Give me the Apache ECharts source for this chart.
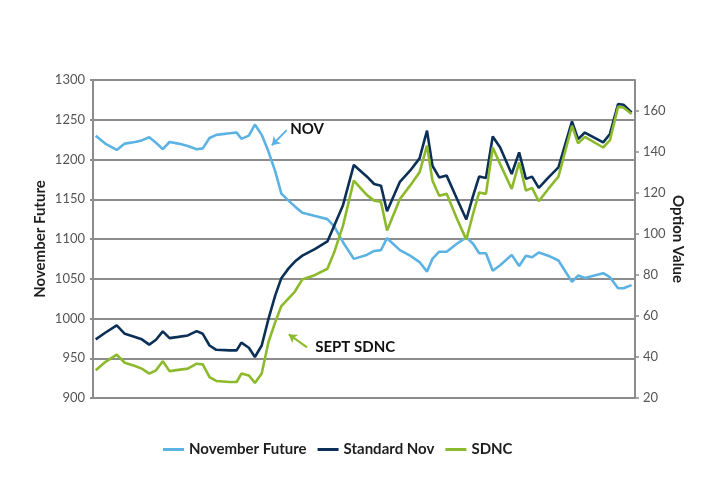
<!DOCTYPE html>
<html>
<head>
<meta charset="utf-8">
<script src="https://cdn.jsdelivr.net/npm/echarts@6/dist/echarts.min.js"></script>
<style>html,body{margin:0;padding:0;background:#fff}#c{width:720px;height:500px}</style>
</head>
<body>
<div id="c"></div>
<script>
// trading-day position (x)
const days = [0.4,1.8,3.5,4.7,6.2,7.2,8.3,9.3,10.3,11.3,12.6,14.0,15.3,16.2,17.2,18.2,20.2,21.2,21.9,23.0,23.9,24.9,25.9,26.9,27.8,28.9,29.8,30.9,32.8,34.6,35.6,36.9,38.5,40.4,41.5,42.5,43.4,45.3,46.8,48.2,49.3,50.1,51.1,52.2,53.7,55.1,56.1,57.0,58.0,59.0,60.1,61.8,62.9,63.9,64.8,65.8,67.2,68.7,70.7,71.6,72.6,75.3,76.3,77.5,78.3,79.5];
const novemberFuture = [1230,1220,1212,1220,1222,1224,1228,1221,1213,1222,1220,1217,1213,1214,1227,1231,1233,1234,1226,1230,1244,1231,1210,1185,1157,1148,1141,1133,1129,1125,1116,1096,1075,1080,1085,1086,1101,1086,1079,1071,1059,1075,1084,1084,1094,1102,1094,1082,1082,1060,1067,1080,1066,1079,1077,1083,1079,1073,1046,1054,1051,1057,1052,1038,1038,1042];
const standardNov = [48.6,51.8,55.4,51.3,49.7,48.6,46,48.4,52.5,49.2,49.8,50.5,52.6,51.3,45.6,43.5,43.2,43.2,47,44.5,40,45.6,58.6,70,78.4,83.3,86.5,89.4,92.7,96.3,104,114,133.6,128,124.3,123.5,111,125.4,130.8,136.8,150.3,133.2,127.5,128.4,117.2,107,118.5,128,127.2,147.5,142.1,129.2,139.7,126.8,127.9,122.4,127.4,132.4,154.8,146.2,149.4,144.6,148.7,163.3,162.9,159.2];
const sdnc = [33.5,37.5,41.1,37.2,35.6,34.3,31.9,33.5,37.9,33.1,33.7,34.3,36.7,36.4,30.2,28.3,27.8,27.8,31.9,31,27.3,31.9,47.3,57,64.8,68.7,71.9,77.8,80,83,91,104,126,119,116.2,115.7,101.6,117,123.5,130,143,126,118.6,119.5,107.5,97.2,109.8,120.2,119.5,142.1,134,121.9,134.8,121.1,122.4,115.9,121.9,127.9,152.7,144.1,147.3,142.1,145.7,161.9,161.6,158.4];
const leftTicks = [900,950,1000,1050,1100,1150,1200,1250,1300];
const rightTicks = [20,40,60,80,100,120,140,160];
const seriesNames = ['November Future','Standard Nov','SDNC'];

const C_NOV = '#5cb3e3', C_STD = '#0b2f56', C_SDNC = '#8cba2c';
const GRID = '#8c8c8c';
const FONT = 'Lato';

const zip = (xs, ys) => xs.map((x, i) => [x, ys[i]]);

const chart = echarts.init(document.getElementById('c'), null, {renderer: 'canvas'});
chart.setOption({
  animation: false,
  backgroundColor: '#fff',
  textStyle: {fontFamily: FONT},
  grid: {left: 93, right: 85, top: 80, bottom: 102},
  legend: {
    bottom: 38, left: 158,
    icon: 'rect', itemWidth: 21, itemHeight: 3, itemGap: 11,
    textStyle: {fontFamily: FONT, fontWeight: 'bold', fontSize: 15, color: '#1e1e1e'},
    data: seriesNames
  },
  xAxis: {type: 'value', min: 0, max: 80, show: false},
  yAxis: [{
    type: 'value', min: 900, max: 1300, interval: 50, position: 'left',
    name: 'November Future', nameLocation: 'middle', nameGap: 45, nameRotate: 90, nameMoveOverlap: false,
    nameTextStyle: {fontFamily: FONT, fontWeight: 'bold', fontSize: 15, color: '#1e1e1e'},
    axisLine: {show: true, lineStyle: {color: GRID, width: 2}},
    axisTick: {show: true, length: 3, lineStyle: {color: GRID, width: 2}},
    axisLabel: {color: '#555', fontSize: 13, margin: 8, fontFamily: FONT, customValues: leftTicks, formatter: v => String(v)},
    splitLine: {show: true, lineStyle: {color: GRID, width: 2}}
  }, {
    type: 'value', min: 20, max: 175, interval: 20, position: 'right',
    name: 'Option Value', nameLocation: 'middle', nameGap: 35, nameRotate: -90, nameMoveOverlap: false,
    nameTextStyle: {fontFamily: FONT, fontWeight: 'bold', fontSize: 15, color: '#1e1e1e'},
    axisLine: {show: true, lineStyle: {color: GRID, width: 2}},
    axisTick: {show: true, length: 4, lineStyle: {color: GRID, width: 1.5}, customValues: rightTicks},
    axisLabel: {color: '#555', fontSize: 13, margin: 8, fontFamily: FONT, customValues: rightTicks, formatter: v => String(v)},
    splitLine: {show: false}
  }],
  series: [{
    name: seriesNames[0], type: 'line', yAxisIndex: 0, data: zip(days, novemberFuture),
    showSymbol: false, symbol: 'none', color: C_NOV, lineStyle: {width: 2.6, color: C_NOV},
    markLine: {
      silent: true, symbol: ['none', 'arrow'], symbolSize: 8, label: {show: false},
      lineStyle: {color: C_NOV, width: 2, type: 'solid'},
      data: [[{coord: [28.6, 1237]}, {coord: [26.4, 1218]}]]
    }
  }, {
    name: seriesNames[1], type: 'line', yAxisIndex: 1, data: zip(days, standardNov),
    showSymbol: false, symbol: 'none', color: C_STD, lineStyle: {width: 2.6, color: C_STD}
  }, {
    name: seriesNames[2], type: 'line', yAxisIndex: 1, data: zip(days, sdnc),
    showSymbol: false, symbol: 'none', color: C_SDNC, lineStyle: {width: 2.6, color: C_SDNC},
    markLine: {
      silent: true, symbol: ['none', 'arrow'], symbolSize: 8, label: {show: false},
      lineStyle: {color: C_SDNC, width: 2, type: 'solid'},
      data: [[{coord: [31.6, 44.7]}, {coord: [28.9, 51.0]}]]
    }
  }]
});

const pNov = chart.convertToPixel({xAxisIndex: 0, yAxisIndex: 0}, [29.1, 1238.3]);
const pSept = chart.convertToPixel({xAxisIndex: 0, yAxisIndex: 1}, [32.8, 44.7]);
chart.setOption({
  graphic: [
    {type: 'text', x: pNov[0], y: pNov[1], style: {text: 'NOV', fill: '#111', font: 'bold 15px Lato', textVerticalAlign: 'middle', textAlign: 'left'}},
    {type: 'text', x: pSept[0], y: pSept[1], style: {text: 'SEPT SDNC', fill: '#111', font: 'bold 15px Lato', textVerticalAlign: 'middle', textAlign: 'left'}}
  ]
});
</script>
</body>
</html>
